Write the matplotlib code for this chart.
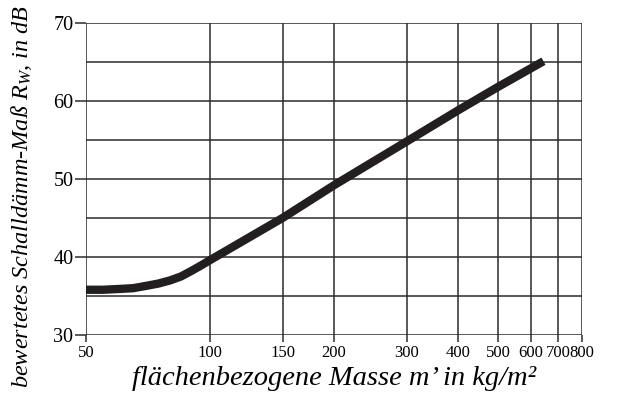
import numpy as np
import matplotlib
matplotlib.use("Agg")
import matplotlib.pyplot as plt
from matplotlib.ticker import FixedLocator, NullLocator

plt.rcParams['font.family'] = ['Liberation Serif', 'DejaVu Serif']
plt.rcParams['mathtext.fontset'] = 'custom'
plt.rcParams['mathtext.rm'] = 'Liberation Serif'
plt.rcParams['mathtext.it'] = 'Liberation Serif:italic'

# curve
masse = [50, 55, 60, 65, 70, 75, 80, 85, 90, 95, 100, 150, 200, 300, 400, 500, 645]
rw = [35.8, 35.8, 35.9, 36.0, 36.3, 36.6, 37.0, 37.5, 38.2, 38.9, 39.6,
      45.0, 49.2, 54.8, 58.8, 61.8, 65.1]

x_ticks = [50, 100, 150, 200, 300, 400, 500, 600, 700, 800]
x_labels = ['50', '100', '150', '200', '300', '400', '500', '600', '700', '800']
y_grid = [30, 35, 40, 45, 50, 55, 60, 65, 70]
y_ticks = [30, 40, 50, 60, 70]

fig = plt.figure(figsize=(6.2, 3.96), dpi=100)
ax = fig.add_axes([86 / 620, 1 - 335 / 396, 496 / 620, 312 / 396])

ax.set_xscale('log')
ax.set_xlim(50, 800)
ax.set_ylim(30, 70)

for x in x_ticks:
    ax.axvline(x, color='#2b2b2b', lw=1.1, zorder=1)
for y in y_grid:
    ax.axhline(y, color='#2b2b2b', lw=1.1, zorder=1)

ax.plot(masse, rw, color='#231f20', lw=6, solid_capstyle='butt', zorder=3)

ax.xaxis.set_major_locator(FixedLocator(x_ticks))
ax.xaxis.set_minor_locator(NullLocator())
ax.set_xticklabels(x_labels)
ax.set_yticks(y_ticks)
ax.tick_params(axis='both', labelsize=12, color='#2b2b2b', width=1.1)
ax.tick_params(axis='y', length=8, pad=1, labelsize=14.5)
ax.tick_params(axis='x', length=5, pad=2)

for s in ax.spines.values():
    s.set_visible(False)

ax.set_xlabel('flächenbezogene Masse m’ in kg/m²', fontsize=20.5, style='italic', labelpad=4)
ax.set_ylabel('bewertetes Schalldämm-Maß $R_W$, in dB', fontsize=17.5, style='italic')
ax.yaxis.set_label_coords(-0.105, 0.445)

fig.savefig('out.png', dpi=100)
